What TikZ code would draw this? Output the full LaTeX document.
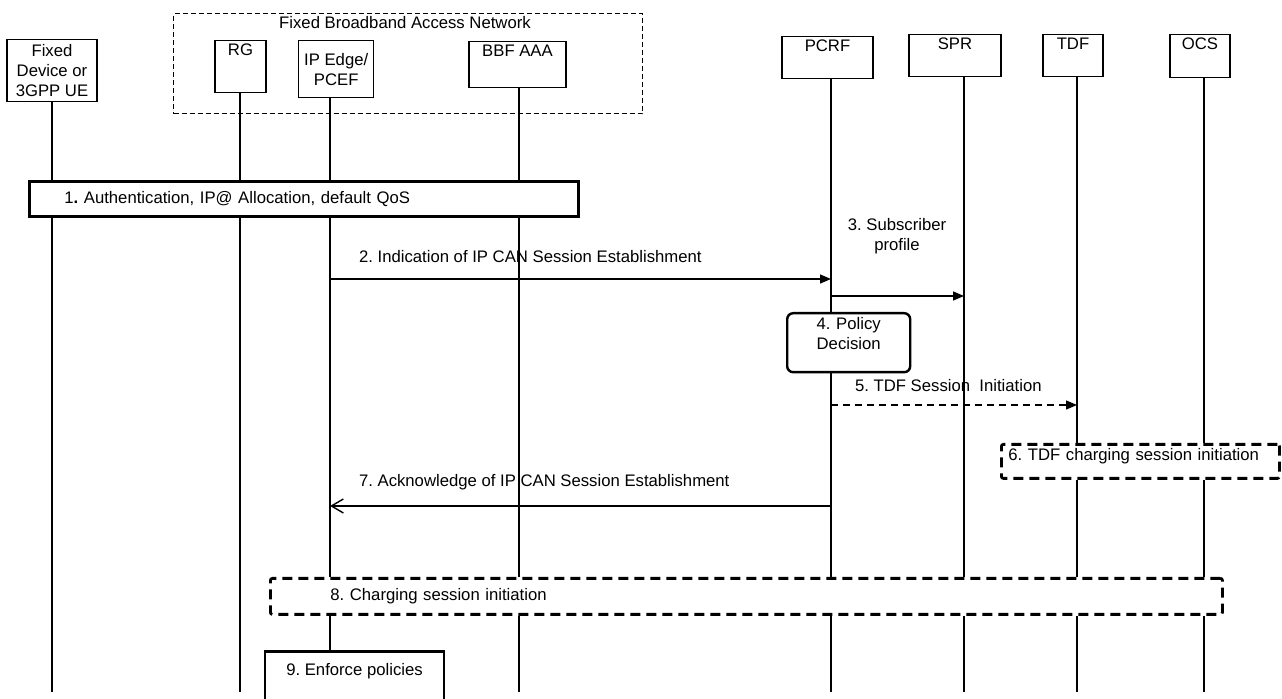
\documentclass[tikz,border=0pt]{standalone}
\usepackage{fontspec}
\setmainfont{Liberation Sans}
\usetikzlibrary{arrows.meta,backgrounds}
\frenchspacing

\tikzset{
  actor/.style={draw, line width=0.7pt, fill=white, align=center, inner sep=1.5pt},
  actortop/.style={actor, text height=6pt},
  groupbox/.style={draw, line width=0.6pt, dash pattern=on 2.5pt off 1.5pt},
  life/.style={line width=0.6pt},
  msg/.style={line width=0.7pt, -{Triangle[length=5.5pt,width=4.5pt]}},
  ack/.style={line width=0.7pt, -{Straight Barb[length=6pt,width=7pt]}},
  stepbox/.style={draw, line width=1.4pt, fill=white},
  dashbox/.style={draw, line width=1.4pt, dash pattern=on 5pt off 3pt, rounded corners=1pt, fill=white},
}

\begin{document}
\begin{tikzpicture}[x=0.5pt, y=-0.5pt, font=\fontsize{8.35}{10}\selectfont]
  \useasboundingbox (0,0) rectangle (1282,699);

  \node[groupbox, anchor=north west, minimum width=234.5pt, minimum height=50pt] (fban) at (173,13) {};
  \node (fbanlabel) at (405,23) {Fixed Broadband Access Network};

  \node[actor, anchor=north, minimum width=45pt, minimum height=31pt] (ue) at (52,39) {Fixed\\Device or\\3GPP UE};
  \node[actortop, anchor=north, minimum width=25.5pt, text depth=17pt] (rg) at (240.5,40) {RG};
  \node[actor, anchor=north west, minimum width=37.5pt, minimum height=28.5pt, inner ysep=0pt] (ipe) at (298,40) {IP Edge/\\PCEF};
  \node[actortop, anchor=north, minimum width=48.5pt, text depth=14pt] (aaa) at (517.5,41) {BBF AAA};
  \node[actortop, anchor=north, minimum width=45.5pt, text depth=12pt] (pcrf) at (827.5,36) {PCRF};
  \node[actortop, anchor=north, minimum width=46pt, text depth=12pt] (spr) at (955,34) {SPR};
  \node[actortop, anchor=north, minimum width=30pt, text depth=12pt] (tdf) at (1073,34) {TDF};
  \node[actortop, anchor=north, minimum width=30pt, text depth=12.5pt] (ocs) at (1200,34) {OCS};

  \foreach \n/\x in {ue/52, rg/240, ipe/330, aaa/519, pcrf/831, spr/964, tdf/1077, ocs/1204}
    \coordinate (\n X) at (\x,0);
  \coordinate (bot) at (0,692);
  \coordinate (y2) at (0,279);
  \coordinate (y3) at (0,296);
  \coordinate (y5) at (0,405);
  \coordinate (y7) at (0,506);

  \node[stepbox, anchor=north west, inner xsep=17.5pt, text width=239.5pt, align=left, minimum height=17.5pt] (auth) at (28,180)
    {1\textbf{.} Authentication, IP@ Allocation, default QoS};
  \node[stepbox, line width=1.2pt, rounded corners=3pt, anchor=north west, inner sep=2pt, text width=57.5pt, align=center,
    text height=6pt, text depth=19.5pt] (pd) at (786,312) {4. Policy\\Decision};
  \node[dashbox, anchor=north west, inner xsep=3.5pt, inner ysep=2pt, text width=132pt, align=left,
    text height=6pt, text depth=7pt] (tdfchg) at (1000,443) {6. TDF charging session initiation};
  \node[dashbox, anchor=north west, inner xsep=30pt, text width=416pt, align=left, minimum height=18pt] (chg) at (269,577)
    {8. Charging session initiation};
  \node[stepbox, anchor=north, minimum width=89.5pt, inner ysep=6pt, text height=6pt, text depth=15pt] (enf) at (354.5,650)
    {9. Enforce policies};

  \begin{scope}[on background layer]
    \draw[life] (ueX |- ue.south) -- (ueX |- bot);
    \draw[life] (rgX |- rg.south) -- (rgX |- bot);
    \draw[life] (ipeX |- ipe.south) -- (ipeX |- chg.north);
    \draw[life] (ipeX |- chg.south) -- (ipeX |- enf.north);
    \foreach \n in {aaa, pcrf, spr} {
      \draw[life] (\n X |- \n.south) -- (\n X |- chg.north);
      \draw[life] (\n X |- chg.south) -- (\n X |- bot);
    }
    \foreach \n in {tdf, ocs} {
      \draw[life] (\n X |- \n.south) -- (\n X |- tdfchg.north);
      \draw[life] (\n X |- tdfchg.south) -- (\n X |- chg.north);
      \draw[life] (\n X |- chg.south) -- (\n X |- bot);
    }
  \end{scope}

  \node[anchor=west] (l2) at (352,257) {2. Indication of IP CAN Session Establishment};
  \draw[msg] (ipeX |- y2) -- (pcrfX |- y2);

  \node[align=center] (l3) at (897,236) {3. Subscriber\\profile};
  \draw[msg] (pcrfX |- y3) -- (sprX |- y3);

  \node[anchor=west] (l5) at (848,386) {5. TDF Session\ \ Initiation};
  \draw[msg, dash pattern=on 3.5pt off 2.5pt] (pcrfX |- y5) -- (tdfX |- y5);

  \node[anchor=west] (l7) at (352,482) {7. Acknowledge of IP CAN Session Establishment};
  \draw[ack] (pcrfX |- y7) -- (ipeX |- y7);
\end{tikzpicture}
\end{document}
